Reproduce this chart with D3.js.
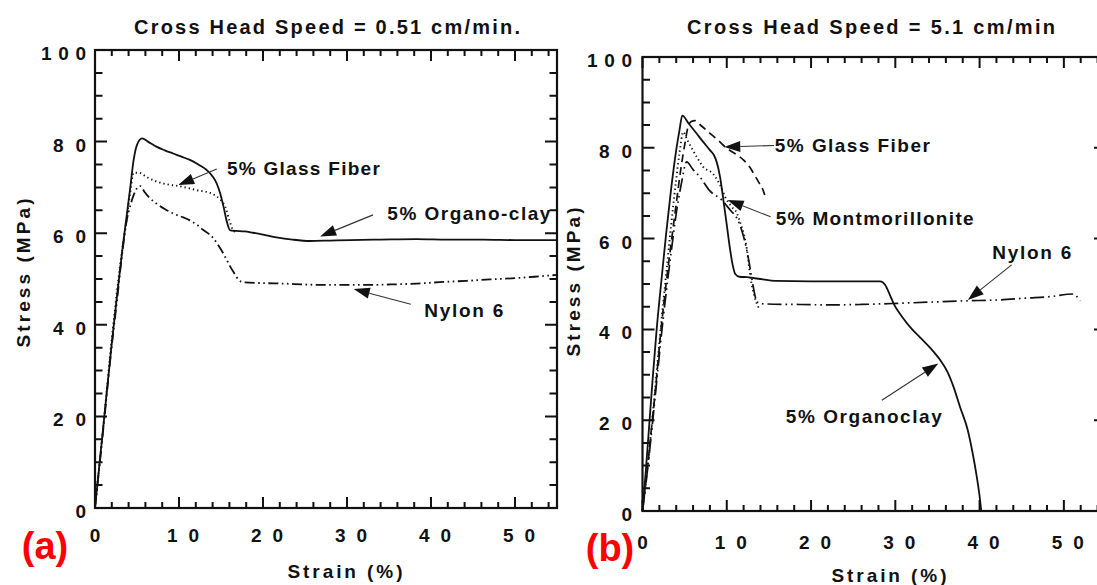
<!DOCTYPE html>
<html><head><meta charset="utf-8">
<script src="https://cdn.jsdelivr.net/npm/d3@7"></script>
<style>
body{margin:0;background:#fff}
svg{display:block}
text{font-family:"Liberation Sans",Arial,Helvetica,sans-serif;font-weight:bold;fill:#111}
</style>
</head><body>
<svg id="c" width="1097" height="585"></svg>
<script>
// ---------- DATA (strain %, stress MPa) ----------
const xTickValues = [0, 10, 20, 30, 40, 50];
const xTickLabels = ["0", "1 0", "2 0", "3 0", "4 0", "5 0"];
const yTickValues = [0, 20, 40, 60, 80, 100];
const yTickLabels = ["0", "2 0", "4 0", "6 0", "8 0", "1 0 0"];
const xMinorTicks = [2,4,6,8,12,14,16,18,22,24,26,28,32,34,36,38,42,44,46,48,52,54];
const yMinorTicks = [5,10,15,25,30,35,45,50,55,65,70,75,85,90,95];

// Panel (a): cross head speed 0.51 cm/min
const aOrganoClay = [[0,0],[1.0,18],[2.0,36],[2.6,46],[3.3,57],[4.2,70],[4.6,76],[5.0,79.3],[5.6,80.7],[6.3,80],[7.3,78.9],[8.3,78.1],[9.3,77.4],[10.3,76.7],[11.3,76],[12.4,74.9],[13.3,73.8],[14.0,72.4],[14.5,70.8],[14.9,68.7],[15.3,65.8],[15.7,62.5],[16.1,60.6],[16.8,60.5],[17.8,60.4],[18.8,60.1],[20,59.7],[21.6,59.1],[23.5,58.6],[25.6,58.3],[28,58.4],[30.4,58.5],[34,58.6],[38.3,58.7],[42,58.6],[46.2,58.6],[50,58.5],[55,58.5]];
const aGlassFiber = [[0,0],[1.0,18],[2.0,37],[2.6,47],[3.2,56],[3.8,63.5],[4.2,69],[4.6,73.2],[5.2,73.2],[6.2,72.2],[7.3,71.3],[8.5,70.7],[9.9,70.3],[11.0,69.9],[12.1,69.4],[13.7,68.8],[14.5,68],[15.0,67.2],[15.5,65.8],[16.0,62.8],[16.4,60.8],[16.7,60.3]];
const aNylon6 = [[0,0],[1.0,17.5],[2.0,35.5],[2.6,45],[3.2,55],[3.8,63],[4.2,66],[4.6,68.3],[5.0,69.8],[5.4,70.3],[5.9,69],[6.5,67.7],[7.3,66.5],[8.3,65.3],[9.3,64.3],[10.3,63.6],[11.3,62.8],[12.1,61.9],[12.9,60.7],[13.6,59.8],[14.1,58.9],[14.7,57.3],[15.3,55.5],[15.7,54.1],[16.1,52.7],[16.6,51.2],[17.1,49.8],[17.7,49.3],[20,49.1],[22.4,49.0],[25,48.8],[27.2,48.7],[30,48.7],[32.3,48.7],[35,48.8],[38.3,49.0],[41,49.3],[44.2,49.6],[47,49.9],[50.2,50.2],[53,50.6],[55,50.9]];

// Panel (b): cross head speed 5.1 cm/min
const bOrganoclay = [[0,0],[0.4,9],[0.8,19],[1.2,29],[1.68,40],[2.2,50],[2.8,61],[3.4,71],[4.0,79.5],[4.4,84],[4.72,87.1],[5.5,85.3],[6.4,83.2],[7.2,81.3],[8.0,79.5],[8.5,78.3],[8.8,76.9],[9.2,73.6],[9.6,68.5],[10.0,63],[10.4,57.5],[10.7,54.2],[11.0,52.2],[11.5,51.6],[12.4,51.5],[14.3,51.0],[15.7,50.7],[20,50.6],[25,50.6],[28.2,50.6],[28.8,49.8],[29.4,47.4],[29.8,45.7],[30.8,42.8],[32.0,40],[32.9,38.3],[34.2,35.8],[35.3,33.3],[36.2,30.6],[36.9,27.4],[37.7,22.8],[38.6,17.8],[39.2,12.5],[39.6,8.3],[40.0,3.3],[40.2,0]];
const bGlassFiber = [[0,0],[0.5,8],[1.0,17],[1.6,28],[2.2,40],[2.8,50],[3.4,59],[4.06,68.5],[4.6,76],[5.04,81],[5.4,84.6],[5.8,85.8],[6.2,86],[7.0,84.8],[8.0,83.2],[9.0,81.6],[10,79.9],[11,78.7],[12,77.3],[12.7,75.8],[13.3,74],[13.8,72.4],[14.3,70.7],[14.5,69.6]];
const bMontmorillonite = [[0,0],[0.5,8],[1.0,17],[1.6,29],[2.2,41],[2.8,52],[3.4,63],[4.0,73],[4.4,79],[4.84,83.5],[5.3,81.8],[5.84,79.9],[6.5,77.8],[7.2,75.8],[8.4,74.2],[9.2,71.8],[10,68.5],[10.6,67],[11.2,65.6],[11.6,63.5],[12,61.2],[12.4,57.5],[12.8,51.6],[13.3,47.2],[13.9,44.3]];
const bNylon6 = [[0,0],[0.5,7.5],[1.0,16],[1.6,27],[2.2,38],[2.8,48],[3.4,57],[4.0,65.5],[4.6,72],[5.24,76.9],[6.0,75.2],[6.8,73.6],[8.0,70.5],[9.4,68.5],[10.4,66.3],[11.2,64.5],[11.6,62.8],[12,60.4],[12.6,55.3],[13,50.9],[13.5,46.5],[13.9,45.7],[14.7,45.6],[18,45.5],[22.6,45.4],[26,45.5],[29.6,45.7],[34,46],[38.5,46.3],[42.4,46.5],[45.5,46.9],[48.3,47.2],[51.1,47.8],[51.9,46.3]];

// ---------- LAYOUT / STYLE ----------
const svg = d3.select("#c");
const styles = {
  solid:   {w:1.8, dash:null},
  dotted:  {w:1.9, dash:"1.3,3"},
  dashed:  {w:1.7, dash:"8,5"},
  dashdotA:{w:1.8, dash:"10,3.5,1.6,3.5,1.6,3.5"},
  dashdotB:{w:1.7, dash:"14,4,1.6,4,1.6,4"}
};

const panels = [
  {
    title:"Cross Head Speed = 0.51 cm/min.", titleX:327, titleY:27, titleW:386,
    tag:"(a)", tagX:45, tagY:546,
    xr:[95,557], yr:[508,50], xLabY:535, yLabX:86,
    xTitleX:345, xTitleY:571, yTitleX:23, yTitleY:273,
    series:[
      {d:aOrganoClay, s:"solid"},
      {d:aGlassFiber, s:"dotted"},
      {d:aNylon6, s:"dashdotA"}
    ],
    notes:[
      {t:"5% Glass Fiber", tx:15.7, ty:74.2, tw:153, from:[14.5,74.0], to:[9.9,70.5]},
      {t:"5% Organo-clay", tx:34.8, ty:64.3, tw:163, from:[33.1,64.0], to:[26.8,59.3]},
      {t:"Nylon 6", tx:39.2, ty:43.1, tw:79, from:[37.6,44.5], to:[30.8,47.8]}
    ]
  },
  {
    title:"Cross Head Speed = 5.1 cm/min", titleX:871, titleY:27, titleW:368,
    tag:"(b)", tagX:610, tagY:548,
    xr:[642.5,1106], yr:[511,57], xLabY:542, yLabX:632,
    xTitleX:889, xTitleY:575, yTitleX:573, yTitleY:282,
    series:[
      {d:bOrganoclay, s:"solid"},
      {d:bGlassFiber, s:"dashed"},
      {d:bMontmorillonite, s:"dotted"},
      {d:bNylon6, s:"dashdotB"}
    ],
    notes:[
      {t:"5% Glass Fiber", tx:15.7, ty:80.5, tw:155, from:[15.6,80.5], to:[9.7,80.2]},
      {t:"5% Montmorillonite", tx:15.8, ty:64.5, tw:198, from:[15.2,64.8], to:[10.1,68.5]},
      {t:"Nylon 6", tx:41.5, ty:57.0, tw:79, from:[43.8,54.2], to:[38.6,46.5]},
      {t:"5% Organoclay", tx:17.0, ty:20.9, tw:156, from:[28.4,24.4], to:[35.1,32.5]}
    ]
  }
];

function drawPanel(p){
  const x = d3.scaleLinear().domain([0,55]).range(p.xr);
  const y = d3.scaleLinear().domain([0,100]).range(p.yr);
  const g = svg.append("g");

  // inward ticks on all four sides, as paths built from the scales
  const tickPath = (vals, len) =>
    vals.map(v=>`M${x(v)},${y(0)}v${-len}M${x(v)},${y(100)}v${len}`).join("");
  const tickPathY = (vals, len) =>
    vals.map(v=>`M${x(0)},${y(v)}h${len}M${x(55)},${y(v)}h${-len}`).join("");
  g.append("path").attr("d", tickPath(xTickValues,11) + tickPath(xMinorTicks,6))
    .attr("fill","none").attr("stroke","#111").attr("stroke-width",2);
  g.append("path").attr("d", tickPathY(yTickValues,12) + tickPathY(yMinorTicks,7.5))
    .attr("fill","none").attr("stroke","#111").attr("stroke-width",2);

  g.append("rect").attr("x",x(0)).attr("y",y(100)).attr("width",x(55)-x(0)).attr("height",y(0)-y(100))
    .attr("fill","none").attr("stroke","#111").attr("stroke-width",2.2);

  // tick labels
  xTickValues.forEach((v,i)=>{
    const lab = xTickLabels[i];
    const t = g.append("text").attr("x",x(v)+(lab.length>1?4:0)).attr("y",p.xLabY)
      .attr("text-anchor","middle").attr("dominant-baseline","central").attr("font-size",19).text(lab);
    if(lab.length>1) t.attr("textLength",32).attr("lengthAdjust","spacing");
  });
  yTickValues.forEach((v,i)=>{
    const lab = yTickLabels[i];
    const t = g.append("text").attr("x",p.yLabX).attr("y",y(v)+3.5)
      .attr("text-anchor","end").attr("dominant-baseline","central").attr("font-size",19).text(lab);
    if(lab.length>1) t.attr("textLength",lab.length>3?45:33).attr("lengthAdjust","spacing");
  });

  // titles
  g.append("text").attr("x",p.titleX).attr("y",p.titleY).attr("text-anchor","middle").attr("dominant-baseline","central")
    .attr("font-size",20).attr("textLength",p.titleW).attr("lengthAdjust","spacing").text(p.title);
  g.append("text").attr("x",p.xTitleX).attr("y",p.xTitleY).attr("text-anchor","middle").attr("dominant-baseline","central")
    .attr("font-size",19).attr("textLength",115).attr("lengthAdjust","spacing").text("Strain (%)");
  g.append("text").attr("transform",`translate(${p.yTitleX},${p.yTitleY}) rotate(-90)`).attr("text-anchor","middle").attr("dominant-baseline","central")
    .attr("font-size",19).attr("textLength",149).attr("lengthAdjust","spacing").text("Stress (MPa)");
  g.append("text").attr("x",p.tagX).attr("y",p.tagY).attr("text-anchor","middle").attr("dominant-baseline","central")
    .attr("font-size",38).style("fill","#ff0000").text(p.tag);

  // series
  const line = d3.line().x(d=>x(d[0])).y(d=>y(d[1])).curve(d3.curveMonotoneX);
  p.series.forEach(s=>{
    const st = styles[s.s];
    g.append("path").attr("d",line(s.d)).attr("fill","none").attr("stroke","#111")
      .attr("stroke-width",st.w).attr("stroke-dasharray",st.dash).attr("stroke-linejoin","round");
  });

  // annotations
  p.notes.forEach(n=>{
    g.append("text").attr("x",x(n.tx)).attr("y",y(n.ty)).attr("dominant-baseline","central")
      .attr("font-size",19).attr("textLength",n.tw).attr("lengthAdjust","spacing").text(n.t);
    const x1=x(n.from[0]), y1=y(n.from[1]), x2=x(n.to[0]), y2=y(n.to[1]);
    const ang = Math.atan2(y2-y1,x2-x1), L=16, hw=5.5;
    const bx = x2 - L*Math.cos(ang), by = y2 - L*Math.sin(ang);
    g.append("path").attr("d",`M${x1},${y1}L${bx},${by}`).attr("stroke","#333").attr("stroke-width",1.1);
    const pts = [[x2,y2],[bx+hw*Math.sin(ang),by-hw*Math.cos(ang)],[bx-hw*Math.sin(ang),by+hw*Math.cos(ang)]];
    g.append("path").attr("d","M"+pts.map(q=>q.join(",")).join("L")+"Z").attr("fill","#111");
  });
}
panels.forEach(drawPanel);
</script>
</body></html>
